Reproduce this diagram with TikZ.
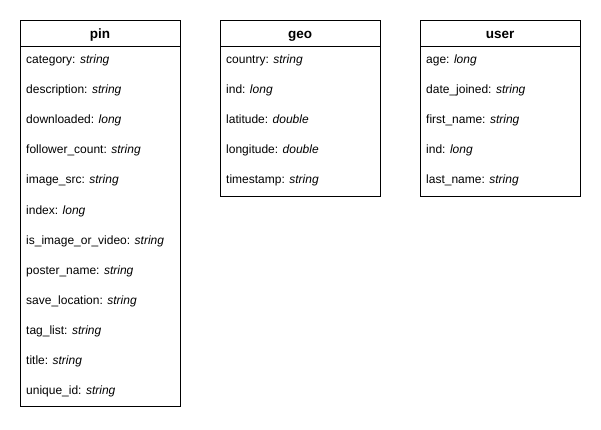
\documentclass[tikz,border=0pt]{standalone}
\usepackage{fontspec}
\setmainfont{Liberation Sans}
\begin{document}
\begin{tikzpicture}[x=1pt,y=-1pt,
  tbl/.style={draw=black,line width=0.8pt,fill=white},
  hdr/.style={font=\fontsize{13.5}{16}\selectfont\bfseries,anchor=base,inner sep=0pt},
  fld/.style={font=\fontsize{12}{14}\selectfont,anchor=base west,inner sep=0pt}]
\useasboundingbox (0,0) rectangle (601,430);
\fill[white] (0,0) rectangle (601,430);
% pin
\draw[tbl] (20,20) rectangle (180,406);
\draw[line width=0.8pt] (20,46) -- (180,46);
\node[hdr] (pinh) at (100,39) {pin};
\foreach \t [count=\i from 0] in {category: \textit{string},description: \textit{string},downloaded: \textit{long},follower\_count: \textit{string},image\_src: \textit{string},index: \textit{long},is\_image\_or\_video: \textit{string},poster\_name: \textit{string},save\_location: \textit{string},tag\_list: \textit{string},title: \textit{string},unique\_id: \textit{string}}
  \node[fld] (pin\i) at (26,{64+30*\i}) {\t};
% geo
\draw[tbl] (220,20) rectangle (380,196);
\draw[line width=0.8pt] (220,46) -- (380,46);
\node[hdr] (geoh) at (300,39) {geo};
\foreach \t [count=\i from 0] in {country: \textit{string},ind: \textit{long},latitude: \textit{double},longitude: \textit{double},timestamp: \textit{string}}
  \node[fld] (geo\i) at (226,{64+30*\i}) {\t};
% user
\draw[tbl] (420,20) rectangle (580,196);
\draw[line width=0.8pt] (420,46) -- (580,46);
\node[hdr] (userh) at (500,39) {user};
\foreach \t [count=\i from 0] in {age: \textit{long},date\_joined: \textit{string},first\_name: \textit{string},ind: \textit{long},last\_name: \textit{string}}
  \node[fld] (user\i) at (426,{64+30*\i}) {\t};
\end{tikzpicture}
\end{document}
